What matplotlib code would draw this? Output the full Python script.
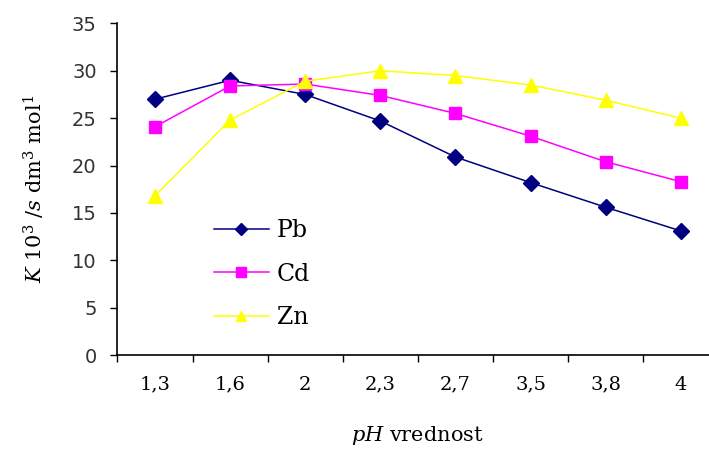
import matplotlib.pyplot as plt

ph_labels = ['1,3', '1,6', '2', '2,3', '2,7', '3,5', '3,8', '4']
pb_values = [27.0, 29.0, 27.5, 24.7, 20.9, 18.2, 15.6, 13.1]
cd_values = [24.1, 28.4, 28.6, 27.4, 25.5, 23.1, 20.4, 18.3]
zn_values = [16.8, 24.8, 28.9, 30.0, 29.5, 28.5, 26.9, 25.0]

plt.rcParams['font.family'] = ['DejaVu Serif']
plt.rcParams['mathtext.fontset'] = 'dejavuserif'

fig = plt.figure(figsize=(7.09, 4.53), dpi=100)
# the category axis runs a little past the right edge of the picture
ax = fig.add_axes([0.1657, 0.2163, 0.8474, 0.732])

x = list(range(len(ph_labels)))
ax.plot(x, pb_values, color='#000080', marker='D', markersize=8, lw=1.1, label='Pb')
ax.plot(x, cd_values, color='#FF00FF', marker='s', markersize=8.5, lw=1.1, label='Cd')
ax.plot(x, zn_values, color='#FFFF00', marker='^', markersize=9.5, lw=1.1, label='Zn')

ax.set_xlim(-0.5, len(ph_labels) - 0.5)
ax.set_ylim(0, 35)
ax.set_yticks(range(0, 36, 5))
ax.set_xticks([i - 0.5 for i in range(len(ph_labels) + 1)])
ax.set_xticklabels([])
ax.set_xticks(x, minor=True)
ax.set_xticklabels(ph_labels, minor=True)
ax.tick_params(axis='x', which='minor', length=0, pad=15, labelsize=14)
ax.tick_params(axis='x', which='major', length=5, direction='out', width=1)
ax.tick_params(axis='y', length=5, direction='out', width=1, pad=10, labelsize=14,
               labelcolor='#333333')
for lbl in ax.get_yticklabels():
    lbl.set_fontfamily('DejaVu Sans')

for side in ['top', 'right']:
    ax.spines[side].set_visible(False)
for side in ['left', 'bottom']:
    ax.spines[side].set_linewidth(1.2)

ax.set_xlabel(r'$pH$ vrednost', fontsize=15, labelpad=22)
ax.set_ylabel(r'$K$ 10$^3$ /$\it{s}$ dm$^3$ mol$^1$', fontsize=15, labelpad=18)

ax.legend(loc='upper left', bbox_to_anchor=(0.1606, 0.41), frameon=False,
          borderpad=0, borderaxespad=0, markerscale=0.8,
          fontsize=17, handlelength=2.33, labelspacing=0.87, handletextpad=0.34)

fig.savefig('out.png', dpi=100)
